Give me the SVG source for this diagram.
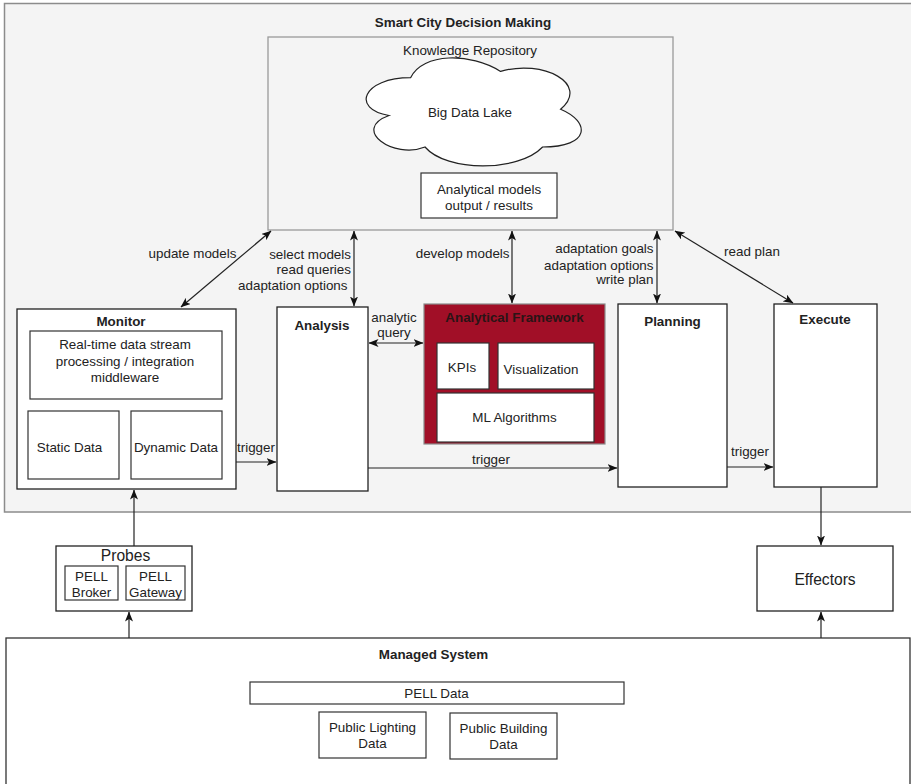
<svg xmlns="http://www.w3.org/2000/svg" width="911" height="784" viewBox="0 0 911 784">
  <style>
    text { font-family: "Liberation Sans", Arial, sans-serif; font-size: 13.4px; fill: #222; }
    .c { text-anchor: middle; }
    .e { text-anchor: end; }
    .b { font-weight: bold; }
    .big { font-size: 15.6px; }
    .dark { fill: #2a1416; }
    .box { fill: #ffffff; stroke: #222; stroke-width: 1.3; }
    .inner { fill: #ffffff; stroke: #333; stroke-width: 1.2; }
    .conn { fill: none; stroke: #222; stroke-width: 1.2; }
  </style>
  <defs>
    <marker id="arr" viewBox="0 0 10 8" refX="9.5" refY="4" markerWidth="10" markerHeight="8" markerUnits="userSpaceOnUse" orient="auto-start-reverse">
      <path d="M0,0 L10,4 L0,8 L2.5,4 Z" fill="#111"/>
    </marker>
  </defs>

  <rect width="911" height="784" fill="#ffffff"/>

  <!-- Decision-making container -->
  <g id="smart-city">
    <rect x="4.5" y="3.5" width="930" height="508.5" fill="#f4f4f4" stroke="#8c8c8c" stroke-width="1.5"/>
    <text class="c b" x="463" y="27">Smart City Decision Making</text>
  </g>

  <!-- Knowledge repository -->
  <g id="knowledge-repository">
    <rect x="268" y="37" width="405" height="193" fill="none" stroke="#9a9a9a" stroke-width="1.3"/>
    <text class="c" x="470" y="54.5">Knowledge Repository</text>
  </g>
  <g id="big-data-lake">
    <path d="M410.6,77.7 C362.6,77.7 350.6,109.2 389,115.5 C350.6,129.4 393.8,159.6 425,147 C446.6,172.2 518.6,172.2 542.6,147 C590.6,147 590.6,121.8 560.6,109.2 C590.6,84 542.6,58.8 500.6,71.4 C470.6,52.5 422.6,52.5 410.6,77.7 Z" fill="#ffffff" stroke="#222" stroke-width="1.2"/>
    <text class="c" x="470" y="116.5">Big Data Lake</text>
  </g>
  <g id="analytical-models">
    <rect class="inner" x="421" y="173" width="136" height="45"/>
    <text class="c" x="489" y="193.5">Analytical models</text>
    <text class="c" x="489" y="209.5">output / results</text>
  </g>

  <!-- Monitor -->
  <g id="monitor">
    <rect class="box" x="17" y="309" width="219" height="180"/>
    <text class="c b" x="121" y="325.5">Monitor</text>
  </g>
  <g id="stream-processing">
    <rect class="inner" x="30" y="331" width="192" height="68"/>
    <text class="c" x="125" y="349">Real-time data stream</text>
    <text class="c" x="125" y="365.5">processing / integration</text>
    <text class="c" x="125" y="381.5">middleware</text>
  </g>
  <g id="static-data">
    <rect class="inner" x="28" y="411" width="91" height="68"/>
    <text class="c" x="69.5" y="451.5">Static Data</text>
  </g>
  <g id="dynamic-data">
    <rect class="inner" x="131" y="411" width="91" height="68"/>
    <text class="c" x="176" y="451.5">Dynamic Data</text>
  </g>

  <!-- Analysis -->
  <g id="analysis">
    <rect class="box" x="277" y="307" width="91" height="184"/>
    <text class="c b" x="322" y="329.5">Analysis</text>
  </g>

  <!-- Analytical framework -->
  <g id="analytical-framework">
    <rect x="424" y="304" width="181" height="140" fill="#a10f27" stroke="#8a8a8a" stroke-width="1.2"/>
    <text class="c b dark" x="514.5" y="321.5">Analytical Framework</text>
  </g>
  <g id="kpis">
    <rect class="inner" x="437" y="343" width="52" height="46"/>
    <text class="c" x="462" y="372">KPIs</text>
  </g>
  <g id="visualization">
    <rect class="inner" x="498" y="343" width="96" height="46"/>
    <text class="c" x="541" y="374">Visualization</text>
  </g>
  <g id="ml-algorithms">
    <rect class="inner" x="437" y="393" width="157" height="49"/>
    <text class="c" x="514.5" y="422">ML Algorithms</text>
  </g>

  <!-- Planning / Execute -->
  <g id="planning">
    <rect class="box" x="618" y="304" width="109" height="183"/>
    <text class="c b" x="672.5" y="325.5">Planning</text>
  </g>
  <g id="execute">
    <rect class="box" x="774" y="304" width="103" height="183"/>
    <text class="c b" x="825" y="324">Execute</text>
  </g>

  <!-- Probes -->
  <g id="probes">
    <rect class="box" x="56" y="546" width="136" height="65"/>
    <text class="c big" x="125.5" y="560.5">Probes</text>
  </g>
  <g id="pell-broker">
    <rect class="inner" x="65" y="566" width="53" height="34"/>
    <text class="c" x="91.5" y="581">PELL</text>
    <text class="c" x="91.5" y="596.5">Broker</text>
  </g>
  <g id="pell-gateway">
    <rect class="inner" x="126" y="566" width="59" height="34"/>
    <text class="c" x="155.5" y="581">PELL</text>
    <text class="c" x="155.5" y="596.5">Gateway</text>
  </g>

  <!-- Effectors -->
  <g id="effectors">
    <rect class="box" x="757" y="546" width="136" height="65"/>
    <text class="c big" x="825" y="584.5">Effectors</text>
  </g>

  <!-- Managed system -->
  <g id="managed-system">
    <rect x="6" y="638" width="904" height="160" fill="#ffffff" stroke="#333" stroke-width="1.3"/>
    <text class="c b" x="433.5" y="658.5">Managed System</text>
  </g>
  <g id="pell-data">
    <rect class="inner" x="250" y="682" width="374" height="22"/>
    <text class="c" x="436.5" y="698">PELL Data</text>
  </g>
  <g id="public-lighting">
    <rect class="inner" x="319" y="712" width="107" height="46"/>
    <text class="c" x="372.5" y="732">Public Lighting</text>
    <text class="c" x="372.5" y="748">Data</text>
  </g>
  <g id="public-building">
    <rect class="inner" x="450" y="713" width="107" height="46"/>
    <text class="c" x="503.5" y="733">Public Building</text>
    <text class="c" x="503.5" y="749">Data</text>
  </g>

  <!-- Connectors -->
  <g id="connectors">
    <line class="conn" x1="271" y1="231" x2="181" y2="307" marker-start="url(#arr)" marker-end="url(#arr)"/>
    <line class="conn" x1="354" y1="231" x2="354" y2="306" marker-start="url(#arr)" marker-end="url(#arr)"/>
    <line class="conn" x1="512" y1="231" x2="512" y2="303" marker-start="url(#arr)" marker-end="url(#arr)"/>
    <line class="conn" x1="657" y1="231" x2="657" y2="303" marker-start="url(#arr)" marker-end="url(#arr)"/>
    <line class="conn" x1="675" y1="231" x2="793" y2="303" marker-start="url(#arr)" marker-end="url(#arr)"/>
    <line class="conn" x1="369" y1="343" x2="423" y2="343" marker-start="url(#arr)" marker-end="url(#arr)"/>
    <line class="conn" x1="236" y1="462" x2="276" y2="462" marker-end="url(#arr)"/>
    <line class="conn" x1="368" y1="468" x2="617" y2="468" marker-end="url(#arr)"/>
    <line class="conn" x1="727" y1="467" x2="773" y2="467" marker-end="url(#arr)"/>
    <line class="conn" x1="821" y1="487" x2="821" y2="545" marker-end="url(#arr)"/>
    <line class="conn" x1="821" y1="638" x2="821" y2="612" marker-end="url(#arr)"/>
    <line class="conn" x1="134" y1="546" x2="134" y2="490" marker-end="url(#arr)"/>
    <line class="conn" x1="129" y1="638" x2="129" y2="612" marker-end="url(#arr)"/>

    <text class="c" x="192.5" y="257.5">update models</text>
    <text class="e" x="351" y="258.5">select models</text>
    <text class="e" x="351" y="274">read queries</text>
    <text class="e" x="347.5" y="289.5">adaptation options</text>
    <text class="e" x="509.5" y="257.5">develop models</text>
    <text class="e" x="653.5" y="253">adaptation goals</text>
    <text class="e" x="653.5" y="269.5">adaptation options</text>
    <text class="e" x="653.5" y="284">write plan</text>
    <text class="c" x="752" y="255.5">read plan</text>
    <text class="c" x="394" y="321.5">analytic</text>
    <text class="c" x="394" y="336.5">query</text>
    <text class="c" x="256" y="451.5">trigger</text>
    <text class="c" x="491" y="464">trigger</text>
    <text class="c" x="750" y="455.5">trigger</text>
  </g>
</svg>
